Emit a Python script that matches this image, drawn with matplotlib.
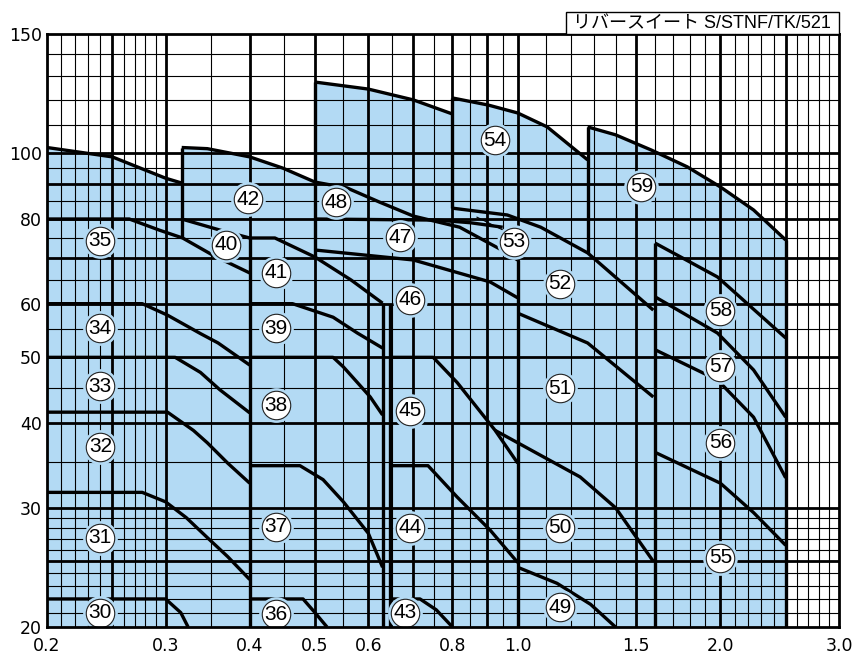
import matplotlib.pyplot as plt
from matplotlib.ticker import NullLocator
from matplotlib.patches import Rectangle

# grid lines (flow Q, m3/min and head H, m)
x_thin = [0.21, 0.22, 0.23, 0.24, 0.26, 0.27, 0.28, 0.29, 0.35, 0.45, 0.55, 0.65,
          0.75, 0.85, 0.95, 1.1, 1.2, 1.3, 1.4, 1.6, 1.7, 1.8, 1.9, 2.1, 2.2, 2.3,
          2.4, 2.6, 2.7, 2.8, 2.9]
x_thick = [0.25, 0.3, 0.4, 0.5, 0.6, 0.7, 0.8, 0.9, 1.0, 1.5, 2.0, 2.5]
y_thin = [21, 22, 23, 24, 26, 27, 28, 29, 35, 45, 55, 65, 75, 85, 95, 110, 120, 130, 140]
y_thick = [25, 30, 40, 50, 60, 70, 80, 90, 100]
x_ticks = [0.2, 0.3, 0.4, 0.5, 0.6, 0.8, 1.0, 1.5, 2.0, 3.0]
x_tick_labels = ['0.2', '0.3', '0.4', '0.5', '0.6', '0.8', '1.0', '1.5', '2.0', '3.0']
y_ticks = [20, 30, 40, 50, 60, 80, 100, 150]

# outer top curves
top_a_q = [0.2, 0.25, 0.3, 0.317]
top_a_h = [102, 98.8, 91.9, 90.4]
top_42_q = [0.317, 0.346, 0.4, 0.448, 0.5]
top_42_h = [102, 101.6, 98.8, 95.1, 90.7]
top_48_q = [0.5, 0.6, 0.7, 0.8]
top_48_h = [127.4, 124.4, 119.9, 114.3]
top_54_q = [0.8, 0.905, 1.0, 1.106, 1.27]
top_54_h = [120.7, 117.8, 114.7, 109.4, 97.8]
top_59_q = [1.27, 1.397, 1.58, 1.786, 2.0, 2.24, 2.5]
top_59_h = [109.4, 106.5, 101.1, 95.5, 89.2, 82.5, 74.5]

# inner curves
curves = {
    '30': ([0.2, 0.3, 0.316, 0.324], [22, 22, 21, 20]),
    '31': ([0.2, 0.277, 0.3, 0.322, 0.346, 0.371, 0.4], [31.6, 31.6, 30.6, 29.0, 27.1, 25.4, 23.5]),
    '32': ([0.2, 0.302, 0.33, 0.346, 0.371, 0.4], [41.5, 41.5, 39.0, 37.4, 34.9, 32.6]),
    '33': ([0.2, 0.31, 0.338, 0.361, 0.4], [50, 50, 47.5, 44.8, 41.4]),
    '34': ([0.2, 0.277, 0.302, 0.338, 0.359, 0.4], [60, 60, 57.7, 54.2, 52.5, 48.7]),
    '35': ([0.2, 0.265, 0.294, 0.318, 0.353, 0.4], [80, 80, 77, 75, 70.7, 66.6]),
    '40': ([0.317, 0.362, 0.4, 0.436, 0.5, 0.566, 0.63], [80, 77, 75, 75, 70.3, 65, 60.1]),
    '36': ([0.4, 0.48, 0.5, 0.521], [22, 22, 21, 20]),
    '37': ([0.4, 0.475, 0.514, 0.551, 0.6, 0.63], [34.6, 34.6, 33, 30.6, 27.5, 24.5]),
    '38': ([0.4, 0.532, 0.551, 0.578, 0.604, 0.63], [50, 50, 48.4, 45.9, 43.7, 41.1]),
    '39': ([0.4, 0.463, 0.532, 0.578, 0.63], [60, 60, 57.3, 54.3, 51.6]),
    '43': ([0.646, 0.716, 0.757, 0.8], [22, 22, 21.2, 20]),
    '44': ([0.646, 0.736, 0.813, 0.91, 1.0], [34.6, 34.6, 31.1, 27.8, 24.9]),
    '45': ([0.646, 0.749, 0.813, 0.876, 0.926, 1.0], [50, 50, 45.9, 41.8, 39.0, 34.9]),
    '46': ([0.5, 0.7, 0.91, 1.0], [72, 69.6, 64.6, 61.2]),
    '47': ([0.5, 0.76, 0.85, 0.95], [80, 79.7, 79.0, 77.8]),
    '48': ([0.5, 0.558, 0.624, 0.7, 0.82, 0.947, 1.0], [90.7, 88.9, 84.7, 80.8, 77.8, 72, 69.6]),
    '49': ([1.0, 1.144, 1.283, 1.397], [24.5, 23.2, 21.6, 20]),
    '50': ([0.926, 1.238, 1.397, 1.59], [39.0, 33.3, 30, 25]),
    '51': ([1.0, 1.27, 1.59], [58.1, 52.5, 43.7]),
    '52': ([0.8, 0.965, 1.082, 1.27, 1.59], [83, 81.1, 77.8, 71.3, 58.7]),
    '55': ([1.6, 2.0, 2.24, 2.5], [36.2, 32.6, 29.5, 26.4]),
    '56': ([1.6, 1.98, 2.24, 2.5], [51.3, 46.3, 40.8, 33.2]),
    '57': ([1.6, 1.98, 2.24, 2.5], [61.4, 54.3, 47.9, 40.8]),
    '58': ([1.6, 1.98, 2.5], [73.7, 65.7, 53.4]),
}

# leader from label 53 into its narrow band
leader_q = [0.87, 0.965]
leader_h = [80.5, 76.5]

# vertical boundaries: Q, H bottom, H top
verticals = [
    (0.317, 75, 102), (0.4, 20, 75), (0.5, 70.3, 127.4), (0.63, 20, 60.1),
    (0.646, 20, 60), (0.8, 83, 120.7), (1.0, 20, 69.6), (1.27, 71.3, 109.4),
    (1.6, 20, 73.7), (2.5, 20, 74.5),
]

# circled model numbers
label_names = ['30', '31', '32', '33', '34', '35', '36', '37', '38', '39', '40', '41',
               '42', '43', '44', '45', '46', '47', '48', '49', '50', '51', '52', '53',
               '54', '55', '56', '57', '58', '59']
label_q = [0.24, 0.24, 0.24, 0.24, 0.24, 0.24, 0.438, 0.438, 0.438, 0.438, 0.369, 0.438,
           0.398, 0.68, 0.692, 0.692, 0.692, 0.669, 0.537, 1.156, 1.156, 1.156, 1.156, 0.988,
           0.926, 2.0, 2.0, 2.0, 2.0, 1.526]
label_h = [21.0, 27.1, 36.9, 45.3, 55.2, 74.3, 20.9, 28.1, 42.5, 55.2, 73.3, 66.6,
           85.6, 21.0, 28.0, 41.7, 60.8, 75.2, 84.7, 21.4, 28.0, 45.0, 64.2, 74.0,
           104.6, 25.3, 37.4, 48.4, 58.6, 89.2]

blue = '#b3daf4'

fig = plt.figure(figsize=(8.67, 6.71), dpi=100)
ax = fig.add_axes([47 / 867, 1 - 627 / 671, 792 / 867, 593 / 671])
ax.set_xscale('log')
ax.set_yscale('log')
ax.set_xlim(0.2, 3.0)
ax.set_ylim(20, 150)

# blue area
env_q = [0.2] + top_a_q + top_42_q + top_48_q + top_54_q + top_59_q + [2.5, 0.2]
env_h = [20] + top_a_h + top_42_h + top_48_h + top_54_h + top_59_h + [20, 20]
ax.fill(env_q, env_h, color=blue, lw=0, zorder=1)

# grid
ax.vlines(x_thin, 20, 150, color='black', lw=0.8, zorder=2)
ax.vlines(x_thick, 20, 150, color='black', lw=2.0, zorder=2)
ax.hlines(y_thin, 0.2, 3.0, color='black', lw=0.8, zorder=2)
ax.hlines(y_thick, 0.2, 3.0, color='black', lw=2.0, zorder=2)

# curves
for q, h in [(top_a_q, top_a_h), (top_42_q, top_42_h), (top_48_q, top_48_h),
             (top_54_q, top_54_h), (top_59_q, top_59_h)]:
    ax.plot(q, h, color='black', lw=2.4, zorder=3, solid_capstyle='butt')
for q, h in curves.values():
    ax.plot(q, h, color='black', lw=2.4, zorder=3, solid_capstyle='butt')
for q, h0, h1 in verticals:
    ax.plot([q, q], [h0, h1], color='black', lw=2.4, zorder=3, solid_capstyle='butt')
ax.plot(leader_q, leader_h, color='black', lw=0.8, zorder=3)

# circled labels
ax.plot(label_q, label_h, 'o', ms=25, mfc=blue, mec='none', zorder=4)
ax.plot(label_q, label_h, 'o', ms=20.5, mfc='white', mec='#222222', mew=0.8, zorder=5)
for name, q, h in zip(label_names, label_q, label_h):
    ax.text(q, h, name, ha='center', va='center', fontsize=15, zorder=6,
            family='Liberation Sans', fontstretch='condensed')

for s in ax.spines.values():
    s.set_linewidth(2.0)
    s.set_zorder(7)

ax.xaxis.set_minor_locator(NullLocator())
ax.yaxis.set_minor_locator(NullLocator())
ax.set_xticks(x_ticks)
ax.set_xticklabels(x_tick_labels)
ax.set_yticks(y_ticks)
ax.set_yticklabels([str(v) for v in y_ticks])
ax.tick_params(length=0, labelsize=12.5)
ax.tick_params(axis='x', pad=7)
ax.tick_params(axis='y', pad=3.5)

# title box above the top-right corner
fig.patches.append(Rectangle((566 / 867, 1 - 34 / 671), 273 / 867, 22 / 671,
                             transform=fig.transFigure, fc='white', ec='black', lw=1.0))
fig.text(702 / 867, 1 - 23.5 / 671, 'リバースイート S/STNF/TK/521', ha='center', va='center',
         fontsize=13, family=['Liberation Sans', 'Noto Sans CJK JP'])

plt.savefig('out.png', dpi=100)
